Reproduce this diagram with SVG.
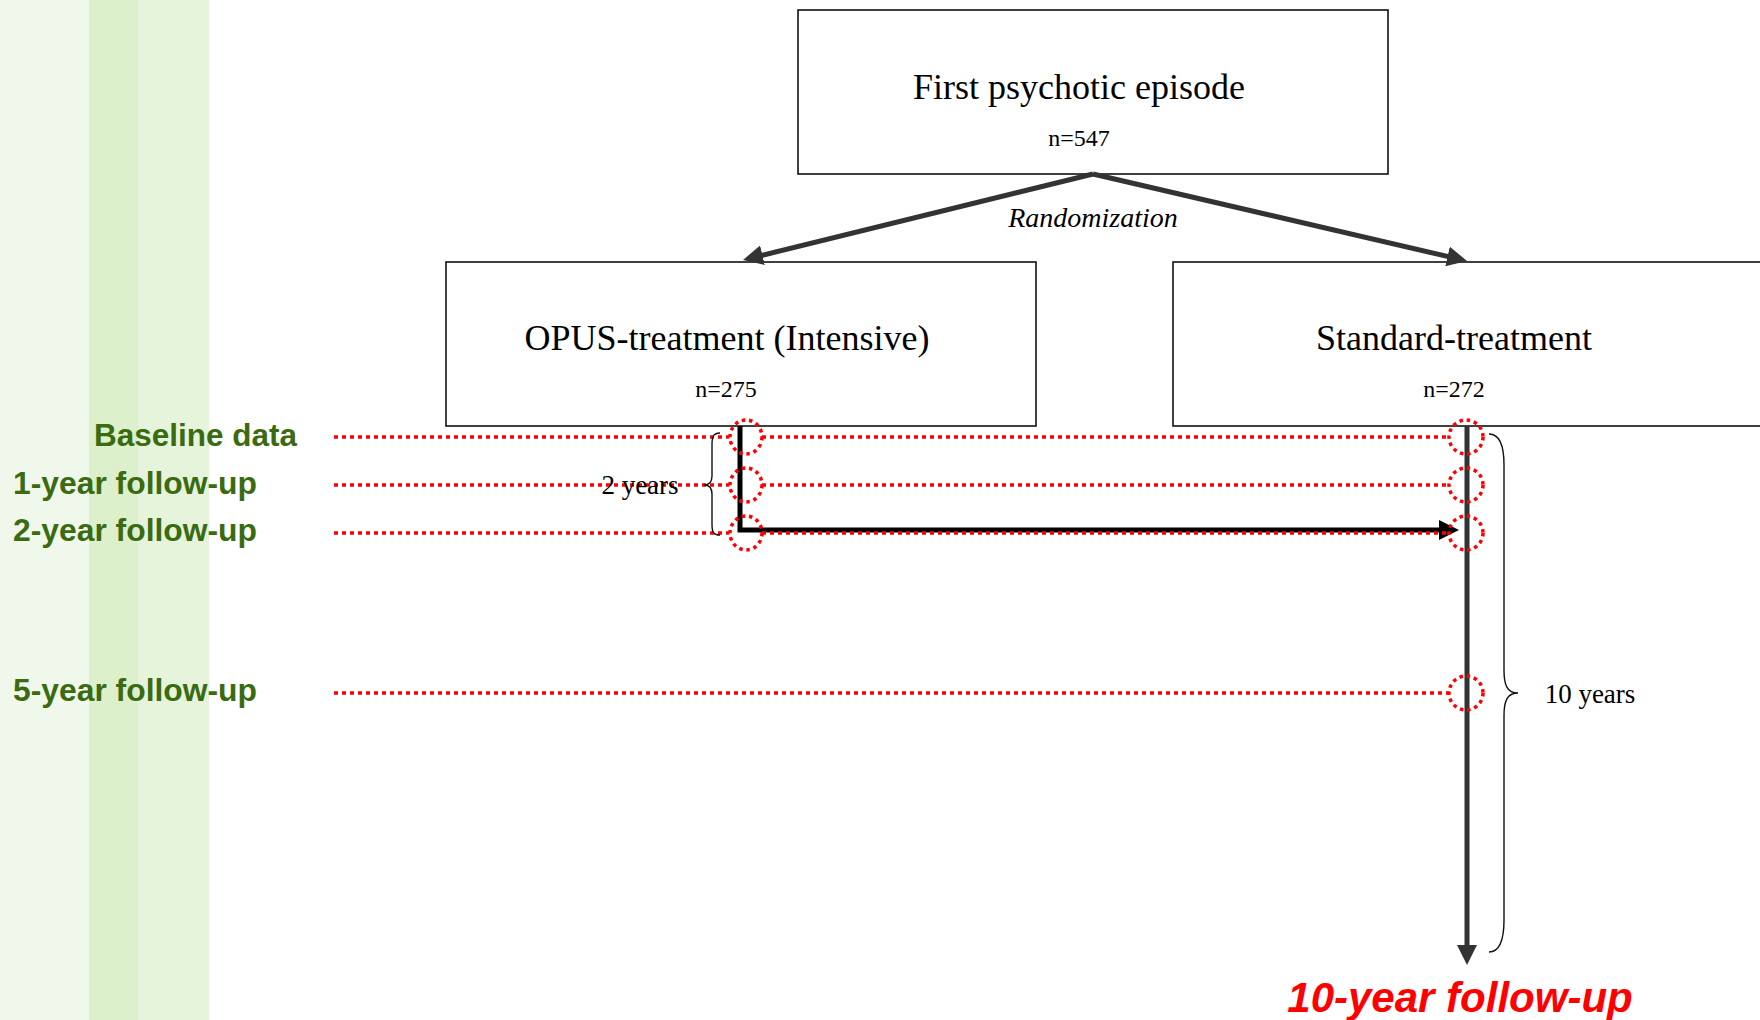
<svg xmlns="http://www.w3.org/2000/svg" width="1760" height="1020" viewBox="0 0 1760 1020">
<style>
.box{fill:#fff;stroke:#111;stroke-width:1.6}
.ttl{font-family:"Liberation Serif","Times New Roman",serif;font-size:36px;fill:#000;text-anchor:middle}
.n{font-family:"Liberation Serif","Times New Roman",serif;font-size:24px;fill:#000;text-anchor:middle}
.serif{font-family:"Liberation Serif","Times New Roman",serif;fill:#000}
.lbl{font-family:"Liberation Sans",Arial,sans-serif;font-weight:bold;font-size:31px;fill:#3b6b10}
.dot{fill:none;stroke:#ff0000;stroke-width:3.5;stroke-dasharray:4 4}
.ring{fill:none;stroke:#ff0000;stroke-width:3.5;stroke-dasharray:3.5 3.8}
.brace{fill:none;stroke:#111;stroke-width:1.4}
</style>
<defs>
<marker id="ahGray" markerUnits="userSpaceOnUse" markerWidth="20" markerHeight="20" viewBox="0 0 20 20" refX="2" refY="10" orient="auto"><path d="M0,0 L20,10 L0,20 Z" fill="#333"/></marker>
<marker id="ahBlack" markerUnits="userSpaceOnUse" markerWidth="20" markerHeight="20" viewBox="0 0 20 20" refX="2" refY="10" orient="auto"><path d="M0,0 L20,10 L0,20 Z" fill="#000"/></marker>
</defs>
<g id="background">
<rect x="0" y="0" width="1760" height="1020" fill="#fff"/>
<rect x="0" y="0" width="89" height="1020" fill="#f0f8ec"/>
<rect x="89" y="0" width="49" height="1020" fill="#dcf0cc"/>
<rect x="138" y="0" width="71" height="1020" fill="#e6f4dc"/>
</g>
<g id="labels">
<text class="lbl" x="94" y="446" textLength="203" lengthAdjust="spacingAndGlyphs">Baseline data</text>
<text class="lbl" x="13" y="494" textLength="244" lengthAdjust="spacingAndGlyphs">1-year follow-up</text>
<text class="lbl" x="13" y="541" textLength="244" lengthAdjust="spacingAndGlyphs">2-year follow-up</text>
<text class="lbl" x="13" y="701" textLength="244" lengthAdjust="spacingAndGlyphs">5-year follow-up</text>
</g>
<g id="node-first">
<rect class="box" x="798" y="10" width="590" height="164"/>
<text class="ttl" x="1079" y="99">First psychotic episode</text>
<text class="n" x="1079" y="146">n=547</text>
</g>
<g id="node-opus">
<rect class="box" x="446" y="262" width="590" height="164"/>
<text class="ttl" x="727" y="350">OPUS-treatment (Intensive)</text>
<text class="n" x="726" y="397">n=275</text>
</g>
<g id="node-standard">
<rect class="box" x="1173" y="262" width="620" height="164"/>
<text class="ttl" x="1454" y="350">Standard-treatment</text>
<text class="n" x="1454" y="397">n=272</text>
</g>
<g id="connectors">
<line x1="1093" y1="174" x2="760.5" y2="255.7" stroke="#333" stroke-width="5" marker-end="url(#ahGray)"/>
<line x1="1093" y1="174" x2="1449.5" y2="256.9" stroke="#333" stroke-width="5" marker-end="url(#ahGray)"/>
<path d="M740,426 V530 H1441" fill="none" stroke="#000" stroke-width="5" marker-end="url(#ahBlack)"/>
<path d="M1467,426 V947" fill="none" stroke="#333" stroke-width="5" marker-end="url(#ahGray)"/>
</g>
<text class="serif" x="1093" y="227" font-size="28" font-style="italic" text-anchor="middle">Randomization</text>
<g id="timeline">
<path class="dot" d="M334,437 H729 M762,437 H1449 M334,485 H729 M762,485 H1449 M334,533 H729 M762,533 H1449 M334,693 H1449"/>
<ellipse class="ring" cx="746" cy="437" rx="16" ry="17"/>
<ellipse class="ring" cx="746" cy="485" rx="16" ry="17"/>
<ellipse class="ring" cx="746" cy="533" rx="16" ry="17"/>
<ellipse class="ring" cx="1466" cy="437" rx="17" ry="17"/>
<ellipse class="ring" cx="1466" cy="485" rx="17" ry="17"/>
<ellipse class="ring" cx="1466" cy="533" rx="17" ry="17"/>
<ellipse class="ring" cx="1466" cy="693" rx="17" ry="17"/>
</g>
<g id="braces">
<path class="brace" d="M720,433 C713,433 712,437 712,445 L712,476 C712,482 709,485 704,485 C709,485 712,488 712,494 L712,524 C712,532 713,535 720,535"/>
<text class="serif" x="640" y="494" font-size="27" text-anchor="middle">2 years</text>
<path class="brace" d="M1489,434 C1500,434 1504,445 1504,465 L1504,670 C1504,685 1507,693 1518,693 C1507,693 1504,701 1504,716 L1504,920 C1504,940 1500,952 1489,952"/>
<text class="serif" x="1590" y="703" font-size="27" text-anchor="middle">10 years</text>
</g>
<text x="1460" y="1012" font-family="Liberation Sans, Arial, sans-serif" font-weight="bold" font-style="italic" font-size="42" fill="#ff0000" text-anchor="middle">10-year follow-up</text>
</svg>
